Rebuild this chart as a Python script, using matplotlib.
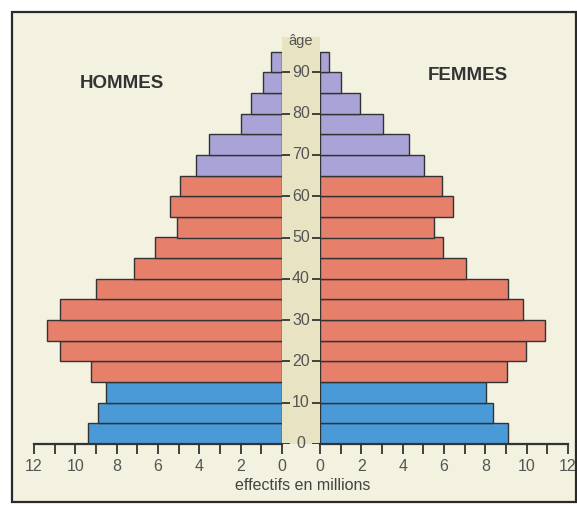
#!/usr/bin/env python3
# -*- coding: utf-8 -*-

import matplotlib
matplotlib.use("Agg")
import matplotlib.pyplot as plt
from matplotlib.patches import Rectangle


# Tranches d'âge (début de chaque tranche de 5 ans)
ages = [0, 5, 10, 15, 20, 25, 30, 35, 40, 45, 50, 55, 60, 65, 70, 75, 80, 85, 90]

hommes = [9.4, 8.9, 8.5, 9.25, 10.75, 11.35, 10.75, 9.0, 7.15, 6.15,
          5.1, 5.4, 4.95, 4.15, 3.55, 2.0, 1.5, 0.9, 0.55]
femmes = [9.1, 8.35, 8.05, 9.05, 9.95, 10.9, 9.8, 9.1, 7.05, 5.95,
          5.5, 6.45, 5.9, 5.05, 4.3, 3.05, 1.95, 1.0, 0.45]

age_labels = [0, 10, 20, 30, 40, 50, 60, 70, 80, 90]
x_labels = [0, 2, 4, 6, 8, 10, 12]

BLEU = "#4a9ad8"
SAUMON = "#e6806b"
VIOLET = "#a9a3d8"

plt.rcParams["font.family"] = ["Liberation Sans", "DejaVu Sans"]


# Couleur selon la tranche d'âge
def couleur(age):
    if age < 15:
        return BLEU
    elif age < 65:
        return SAUMON
    return VIOLET


def regler_axe(ax):
    for s in ["top", "left", "right"]:
        ax.spines[s].set_visible(False)
    ax.spines["bottom"].set_linewidth(1.6)
    ax.spines["bottom"].set_color("#333333")
    ax.set_facecolor("none")
    ax.set_ylim(0, 100)
    ax.set_yticks([])
    ax.set_xticks(x_labels)
    ax.set_xticks(range(13), minor=True)
    ax.tick_params(axis="x", which="both", direction="out", length=7,
                   width=1.3, color="#333333", labelsize=11.5,
                   labelcolor="#555555", pad=4)


W, H = 577, 509
fig = plt.figure(figsize=(W / 100, H / 100), dpi=100)
fig.patch.set_facecolor("white")

# fond papier + cadre du scan
fond = fig.add_axes([0, 0, 1, 1])
fond.set_xlim(0, W)
fond.set_ylim(H, 0)
fond.axis("off")
fond.add_patch(Rectangle((12, 12), 564, 490, facecolor="#f3f1df",
                         edgecolor="#2a2a2a", linewidth=1.6))

x0 = 34
bas, haut = 65 / H, 413 / H
ax_h = fig.add_axes([x0 / W, bas, 248 / W, haut])
ax_m = fig.add_axes([(x0 + 248) / W, bas, 38 / W, haut])
ax_f = fig.add_axes([(x0 + 286) / W, bas, 248 / W, haut])

couleurs = [couleur(a) for a in ages]
ax_h.barh(ages, hommes, height=5, align="edge", color=couleurs,
          edgecolor="#333333", linewidth=1.0)
ax_f.barh(ages, femmes, height=5, align="edge", color=couleurs,
          edgecolor="#333333", linewidth=1.0)

regler_axe(ax_h)
regler_axe(ax_f)
ax_h.set_xlim(12, 0)
ax_f.set_xlim(0, 12)

# colonne centrale des âges
ax_m.set_xlim(0, 1)
ax_m.set_ylim(0, 100)
ax_m.axis("off")
ax_m.add_patch(Rectangle((0, 0), 1, 98.5, facecolor="#e7e3c3",
                         edgecolor="none"))
for a in age_labels:
    ax_m.hlines(a, 0, 0.2, color="#333333", linewidth=1.3)
    ax_m.hlines(a, 0.8, 1, color="#333333", linewidth=1.3)
    ax_m.text(0.5, a, str(a), ha="center", va="center", fontsize=11.5,
              color="#555555")
ax_m.text(0.5, 97.5, "âge", ha="center", va="center", fontsize=10.5,
          color="#555555")

fig.text(122 / W, 1 - 84 / H, "HOMMES", ha="center", va="center",
         fontsize=13.5, fontweight="bold", color="#333333")
fig.text(468 / W, 1 - 75 / H, "FEMMES", ha="center", va="center",
         fontsize=13.5, fontweight="bold", color="#333333")
fig.text(303 / W, 1 - 486 / H, "effectifs en millions", ha="center",
         va="center", fontsize=11.5, color="#444444")

fig.savefig("out.png", dpi=100, facecolor=fig.get_facecolor())
